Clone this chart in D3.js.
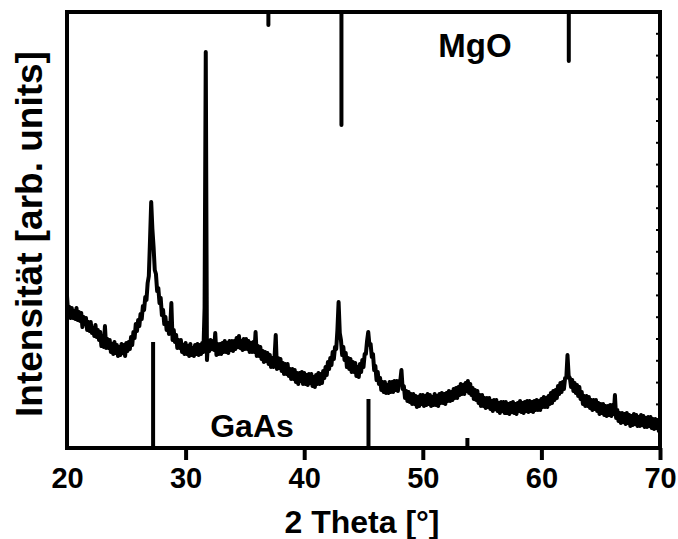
<!DOCTYPE html>
<html>
<head>
<meta charset="utf-8">
<script src="https://cdn.jsdelivr.net/npm/d3@7"></script>
<style>
	html, body { margin: 0; padding: 0; background: #fff; }
	svg text { font-family: "Liberation Sans", Arial, sans-serif; font-weight: bold; fill: #000; }
</style>
</head>
<body>
<svg id="chart" width="678" height="539"></svg>
<script>
// XRD scan, equal step width (one row = 1 degree)
const scanStart = 20;
const scanStep = 0.1;
const intensity = [
	152, 134, 141, 130, 140, 130, 137, 129, 140, 128,
	136, 127, 135, 121, 131, 124, 130, 118, 126, 117,
	126, 115, 120, 112, 123, 111, 118, 108, 116, 102,
	112, 101, 122, 100, 109, 100, 108, 96, 104, 94,
	106, 95, 103, 92, 101, 93, 104, 95, 103, 92,
	105, 97, 106, 99, 111, 103, 116, 110, 124, 117,
	128, 122, 134, 129, 142, 138, 151, 148, 165, 172,
	208, 246, 219, 201, 178, 174, 157, 160, 145, 150,
	133, 138, 124, 131, 118, 125, 114, 121, 145, 108,
	118, 106, 113, 100, 108, 100, 108, 96, 103, 94,
	105, 94, 102, 92, 104, 93, 100, 92, 103, 94,
	104, 93, 103, 94, 105, 96, 140, 396, 88, 106,
	97, 108, 99, 107, 98, 115, 93, 104, 94, 104,
	94, 105, 96, 107, 96, 105, 95, 107, 98, 107,
	97, 107, 99, 110, 101, 112, 100, 107, 98, 109,
	99, 109, 99, 107, 96, 105, 96, 106, 96, 116,
	92, 102, 92, 101, 89, 97, 86, 96, 87, 95,
	84, 93, 81, 90, 81, 91, 113, 79, 90, 80,
	89, 77, 85, 74, 84, 74, 84, 72, 79, 69,
	79, 69, 78, 66, 75, 64, 75, 67, 76, 64,
	75, 64, 73, 63, 74, 65, 74, 62, 71, 61,
	73, 64, 75, 64, 74, 65, 77, 70, 81, 73,
	86, 79, 90, 83, 96, 89, 101, 99, 118, 146,
	115, 108, 93, 101, 88, 95, 81, 90, 79, 89,
	76, 86, 76, 85, 72, 81, 71, 84, 76, 88,
	81, 94, 94, 107, 116, 103, 104, 91, 94, 78,
	82, 68, 76, 64, 70, 58, 66, 56, 66, 55,
	63, 55, 66, 56, 66, 56, 67, 58, 67, 57,
	67, 67, 78, 59, 62, 50, 57, 47, 56, 46,
	54, 44, 54, 44, 52, 41, 51, 42, 53, 44,
	53, 42, 52, 43, 54, 44, 53, 42, 51, 43,
	54, 43, 52, 42, 54, 45, 55, 45, 54, 44,
	55, 47, 57, 47, 56, 48, 59, 50, 60, 50,
	61, 53, 64, 54, 63, 54, 65, 57, 67, 55,
	64, 53, 60, 49, 58, 48, 57, 45, 53, 42,
	53, 42, 50, 40, 50, 41, 50, 39, 47, 37,
	48, 39, 48, 37, 45, 35, 46, 37, 46, 35,
	46, 35, 44, 34, 45, 36, 46, 35, 44, 34,
	45, 37, 47, 36, 45, 35, 46, 37, 47, 36,
	47, 37, 46, 36, 47, 38, 48, 38, 47, 38,
	49, 41, 51, 41, 50, 41, 52, 44, 55, 45,
	57, 48, 58, 50, 62, 54, 65, 56, 66, 59,
	70, 70, 93, 72, 70, 61, 68, 57, 65, 55,
	63, 52, 61, 49, 56, 44, 52, 42, 52, 42,
	51, 40, 48, 38, 48, 39, 48, 37, 45, 34,
	44, 35, 44, 33, 42, 32, 42, 33, 43, 32,
	43, 34, 53, 30, 38, 27, 35, 25, 35, 26,
	34, 24, 35, 25, 33, 22, 32, 23, 34, 24,
	33, 22, 31, 22, 33, 23, 32, 21, 30, 21,
	31, 22, 31, 20, 29, 19, 29, 20, 28, 17,
	22
];

// Reference patterns (stick positions and heights)
const mgoPositions = [36.98, 43.14, 62.31];
const mgoHeights = [13, 113, 49];
const gaasPositions = [27.26, 45.42, 53.76];
const gaasHeights = [106, 49, 10];

const xTicks = [20, 30, 40, 50, 60, 70];
const yMax = 436;

const svg = d3.select("#chart");
const plotLeft = 67, plotRight = 660, plotTop = 12, plotBottom = 448;

const x = d3.scaleLinear().domain([20, 70]).range([plotLeft, plotRight]);
const y = d3.scaleLinear().domain([0, yMax]).range([plotBottom, plotTop]);

const scan = intensity.map((v, i) => [scanStart + i * scanStep, v]);

// Measured pattern
svg.append("path")
	.datum(scan)
	.attr("fill", "none")
	.attr("stroke", "#000")
	.attr("stroke-width", 4)
	.attr("stroke-linejoin", "round")
	.attr("d", d3.line().x(d => x(d[0])).y(d => y(d[1])));

// MgO sticks hang from the top
svg.append("g").selectAll("line")
	.data(mgoPositions)
	.join("line")
	.attr("x1", d => x(d))
	.attr("x2", d => x(d))
	.attr("y1", y(yMax))
	.attr("y2", (d, i) => y(yMax - mgoHeights[i]))
	.attr("stroke", "#000")
	.attr("stroke-width", 4)
	.attr("stroke-linecap", "round");

// GaAs sticks rise from the bottom
svg.append("g").selectAll("line")
	.data(gaasPositions)
	.join("line")
	.attr("x1", d => x(d))
	.attr("x2", d => x(d))
	.attr("y1", y(0))
	.attr("y2", (d, i) => y(gaasHeights[i]))
	.attr("stroke", "#000")
	.attr("stroke-width", 4);

// Small inner ticks on right axis
svg.append("g").selectAll("line")
	.data(d3.range(1, 20).map(k => k * yMax / 20))
	.join("line")
	.attr("x1", plotRight)
	.attr("x2", plotRight - 4)
	.attr("y1", d => y(d))
	.attr("y2", d => y(d))
	.attr("stroke", "#000")
	.attr("stroke-width", 2);

// Bottom axis
const xAxis = svg.append("g")
	.attr("transform", `translate(0, ${plotBottom})`)
	.call(d3.axisBottom(x).tickValues(xTicks).tickSize(12).tickPadding(7).tickFormat(d3.format("d")));
xAxis.select(".domain").remove();
xAxis.selectAll(".tick line").attr("stroke", "#000").attr("stroke-width", 4);
xAxis.selectAll(".tick").filter(d => d === 20).select("line").remove();
xAxis.selectAll(".tick text")
	.style("font-family", "'Liberation Sans', Arial, sans-serif")
	.style("font-weight", "bold")
	.style("font-size", "29px")
	.attr("fill", "#000");

// Frame
svg.append("rect")
	.attr("x", plotLeft)
	.attr("y", plotTop)
	.attr("width", plotRight - plotLeft)
	.attr("height", plotBottom - plotTop)
	.attr("fill", "none")
	.attr("stroke", "#000")
	.attr("stroke-width", 4);

// Labels
svg.append("text")
	.attr("x", 475)
	.attr("y", 57)
	.attr("text-anchor", "middle")
	.style("font-size", "33px")
	.text("MgO");

svg.append("text")
	.attr("x", 252)
	.attr("y", 437)
	.attr("text-anchor", "middle")
	.style("font-size", "32px")
	.text("GaAs");

svg.append("text")
	.attr("x", 362)
	.attr("y", 533)
	.attr("text-anchor", "middle")
	.style("font-size", "32px")
	.text("2 Theta [°]");

svg.append("text")
	.attr("transform", "translate(42, 234) rotate(-90)")
	.attr("text-anchor", "middle")
	.style("font-size", "37px")
	.text("Intensität [arb. units]");
</script>
</body>
</html>
